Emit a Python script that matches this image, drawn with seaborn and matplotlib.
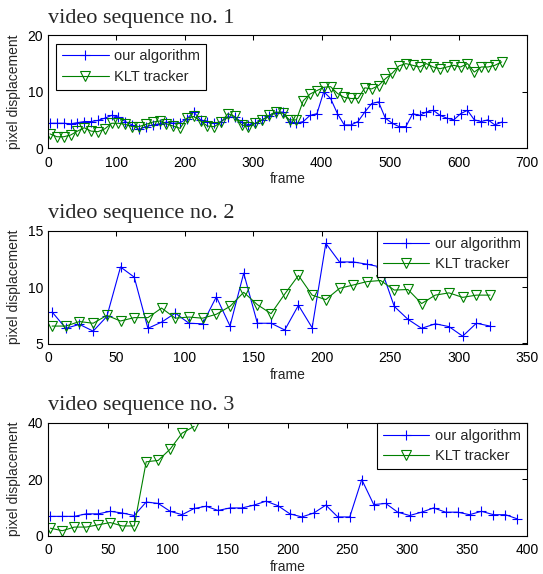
import numpy as np
import pandas as pd
import matplotlib
matplotlib.use("Agg")
import matplotlib.pyplot as plt
import seaborn as sns

# ---------------- data ----------------
# video sequence 1 (frames 3, 13, ..., 663)
frames1 = list(range(3, 664, 10))
ours1 = [4.4, 4.4, 4.4, 4.3, 4.5, 4.7, 4.7, 4.9, 5.3, 5.8,
         5.5, 4.7, 4.1, 3.3, 3.8, 4.1, 4.3, 4.6, 4.4, 4.5,
         5.2, 6.4, 5.0, 4.7, 4.4, 4.7, 5.5, 5.5, 4.6, 4.1,
         4.4, 5.0, 5.6, 6.3, 6.4, 4.7, 4.4, 4.7, 5.8, 6.1,
         10.0, 8.8, 6.1, 4.1, 4.1, 4.7, 6.4, 7.9, 8.2, 5.3,
         4.4, 3.8, 3.8, 6.1, 5.8, 6.4, 6.7, 5.8, 5.3, 5.0,
         6.1, 6.7, 5.0, 4.7, 5.0, 4.1, 4.6]
klt1 = [2.5, 2.0, 2.0, 2.3, 3.0, 3.6, 3.0, 2.9, 3.4, 4.4,
        4.4, 4.2, 3.8, 3.8, 4.2, 4.6, 4.8, 4.3, 3.9, 3.5,
        5.3, 5.6, 4.8, 3.9, 3.8, 4.6, 6.1, 5.6, 4.1, 3.8,
        4.4, 5.0, 5.8, 6.4, 6.2, 5.0, 5.0, 8.4, 9.6, 10.2,
        10.8, 10.9, 9.7, 9.0, 8.8, 8.8, 10.7, 10.5, 11.1, 12.3,
        13.3, 14.6, 15.0, 14.7, 14.4, 15.0, 14.4, 14.1, 14.4, 14.7,
        14.4, 15.0, 13.5, 14.4, 14.4, 14.7, 15.3]

# video sequence 2 (frames 3, 13, ..., 323)
frames2 = list(range(3, 324, 10))
ours2 = [7.8, 6.35, 6.7, 6.1, 7.4, 11.8, 10.9, 6.35, 6.9, 7.7,
         6.8, 6.75, 9.15, 6.55, 11.25, 6.8, 6.8, 6.2, 8.4, 6.4,
         13.9, 12.25, 12.25, 12.05, 11.8, 8.3, 7.15, 6.35, 6.75, 6.5,
         5.65, 6.8, 6.55]
klt2 = [6.55, 6.55, 6.95, 6.8, 7.5, 7.0, 7.3, 7.3, 8.15, 7.25,
        7.35, 7.25, 7.6, 8.3, 9.55, 8.45, 7.65, 9.4, 11.05, 9.3,
        8.9, 9.9, 10.2, 10.5, 10.6, 9.75, 9.8, 8.55, 9.3, 9.5,
        9.1, 9.3, 9.3]

# video sequence 3 (frames 2, 12, ..., 392)
frames3 = list(range(2, 393, 10))
ours3 = [6.8, 6.8, 6.8, 7.7, 7.7, 8.6, 8.0, 7.1, 11.9, 11.4,
         8.6, 7.4, 9.6, 10.4, 8.9, 9.8, 9.8, 10.8, 12.2, 10.6,
         7.7, 6.6, 8.0, 10.8, 6.6, 6.6, 19.9, 11.0, 11.4, 8.3,
         7.1, 8.3, 9.8, 8.3, 8.3, 7.4, 8.6, 7.4, 7.4, 5.9]
frames3_klt = list(range(2, 123, 10))
klt3 = [2.6, 1.7, 3.0, 3.0, 3.8, 4.6, 3.4, 3.4, 26.2, 26.7,
        30.7, 36.4, 38.8]

titles = ["video sequence no. 1", "video sequence no. 2", "video sequence no. 3"]
series_names = ["our algorithm", "KLT tracker"]
xlims = [(0, 700), (0, 350), (0, 400)]
ylims = [(0, 20), (5, 15), (0, 40)]
xticks = [list(range(0, 701, 100)), list(range(0, 351, 50)), list(range(0, 401, 50))]
yticks = [[0, 10, 20], [5, 10, 15], [0, 20, 40]]

# ---------------- style ----------------
sns.set_style("white")
plt.rcParams["font.family"] = ["Liberation Sans", "DejaVu Sans"]
plt.rcParams["font.size"] = 10

BLUE = (0.0, 0.0, 1.0)
GREEN = (0.0, 0.5, 0.0)

fig = plt.figure(figsize=(5.43, 5.74), dpi=100)
left, width, height = 48 / 543, 479 / 543, 0.196
bottoms = [1 - 148 / 574, 1 - 343.5 / 574, 1 - 535.5 / 574]

panels = [
    (frames1, ours1, frames1, klt1),
    (frames2, ours2, frames2, klt2),
    (frames3, ours3, frames3_klt, klt3),
]

for i, (fa, ya, fk, yk) in enumerate(panels):
    ax = fig.add_axes([left, bottoms[i], width, height])
    dfa = pd.DataFrame({"frame": fa, "value": ya})
    dfk = pd.DataFrame({"frame": fk, "value": yk})
    sns.lineplot(data=dfa, x="frame", y="value", ax=ax, color=BLUE,
                 marker="+", markersize=7, markeredgecolor=BLUE,
                 markeredgewidth=0.8, linewidth=0.8, label=series_names[0],
                 errorbar=None)
    sns.lineplot(data=dfk, x="frame", y="value", ax=ax, color=GREEN,
                 marker="v", markersize=7, markeredgecolor=GREEN,
                 markerfacecolor="none", markeredgewidth=0.8, linewidth=0.8,
                 label=series_names[1], errorbar=None)
    ax.set_xlim(*xlims[i])
    ax.set_ylim(*ylims[i])
    ax.set_xticks(xticks[i])
    ax.set_yticks(yticks[i])
    ax.set_xlabel("frame", fontsize=10, labelpad=2)
    ax.set_ylabel("pixel displacement", fontsize=10, labelpad=5)
    ax.tick_params(direction="in", length=3.5, width=0.75, labelsize=10,
                   top=True, right=True, pad=3.5, colors="black")
    ax.tick_params(axis="x", pad=5.5)
    for sp in ax.spines.values():
        sp.set_visible(True)
        sp.set_color("black")
        sp.set_linewidth(0.8)
    ax.set_title(titles[i], loc="left", fontsize=16,
                 fontfamily=["Liberation Serif", "DejaVu Serif"], pad=9)
    common = dict(fontsize=10.5, handlelength=3.2, handletextpad=0.4,
                  labelspacing=0.45, borderpad=0.4, fancybox=False,
                  framealpha=1, edgecolor="black")
    if i == 0:
        leg = ax.legend(loc="upper left", borderaxespad=0.55, **common)
    else:
        leg = ax.legend(loc="upper right", borderaxespad=0.0, **common)
    leg.get_frame().set_linewidth(0.8)

fig.align_ylabels()
fig.savefig("out.png", dpi=100)
